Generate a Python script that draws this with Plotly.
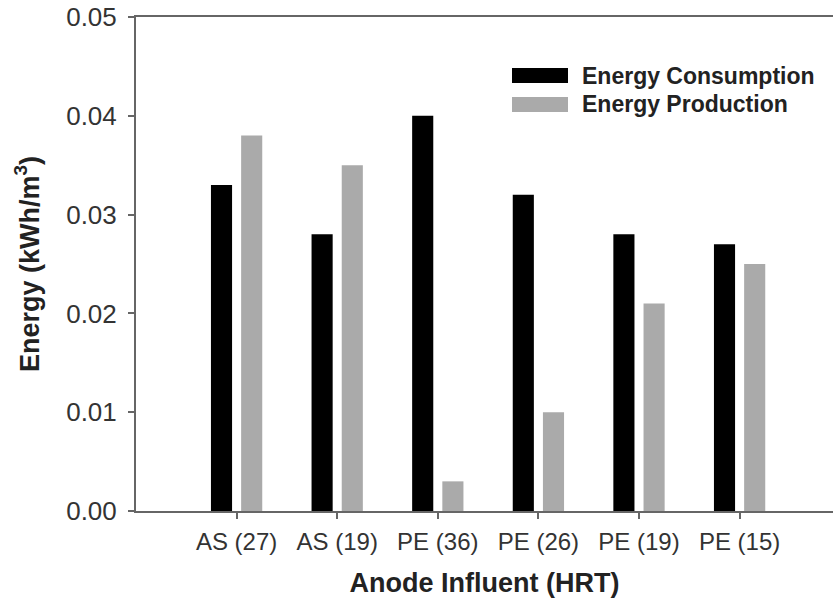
import plotly.graph_objects as go

# Anode influent conditions (HRT in hours) and energy balances in kWh/m3
categories = ["AS (27)", "AS (19)", "PE (36)", "PE (26)", "PE (19)", "PE (15)"]
consumption = [0.033, 0.028, 0.040, 0.032, 0.028, 0.027]
production = [0.038, 0.035, 0.003, 0.010, 0.021, 0.025]
y_ticks = [0.00, 0.01, 0.02, 0.03, 0.04, 0.05]

series = [
    ("Energy Consumption", consumption, "#000000"),
    ("Energy Production", production, "#aaaaaa"),
]

W, H = 833, 603
ML, MR, MT, MB = 136, 0, 17, 92
PW, PH = W - ML - MR, H - MT - MB

FONT = "Liberation Sans, Arial, sans-serif"
AXIS_COLOR = "#666666"

fig = go.Figure()
for name, vals, color in series:
    fig.add_trace(go.Bar(
        x=list(range(len(categories))), y=vals, name=name,
        marker=dict(color=color, line=dict(width=0)),
        showlegend=False,
    ))

# category spacing in px, so the x range leaves one empty slot on the left
step = 100.6
x_range = [-1, -1 + PW / step]

fig.update_layout(
    width=W, height=H,
    margin=dict(l=ML, r=MR, t=MT, b=MB, pad=0),
    paper_bgcolor="white", plot_bgcolor="white",
    barmode="group", bargap=0.40, bargroupgap=0.30,
    font=dict(family=FONT, color="#333333"),
    xaxis=dict(
        range=x_range, tickmode="array",
        tickvals=list(range(len(categories))), ticktext=categories,
        showgrid=False, zeroline=False,
        showline=True, linecolor=AXIS_COLOR, linewidth=2, mirror=True,
        ticks="outside", ticklen=6, tickwidth=1.5, tickcolor=AXIS_COLOR,
        tickfont=dict(size=24, color="#333333"),
        ticklabelstandoff=2,
        title=dict(text="<b>Anode Influent (HRT)</b>",
                   font=dict(size=27, color="#222222"), standoff=19),
    ),
    yaxis=dict(
        range=[0, 0.05], tickmode="array", tickvals=y_ticks,
        tickformat=".2f",
        showgrid=False, zeroline=False,
        showline=True, linecolor=AXIS_COLOR, linewidth=2, mirror=False,
        ticks="outside", ticklen=6, tickwidth=1.5, tickcolor=AXIS_COLOR,
        tickfont=dict(size=26, color="#333333"),
        ticklabelstandoff=6,
        title=dict(text="<b>Energy (kWh/m<sup>3</sup>)</b>",
                   font=dict(size=27, color="#222222"), standoff=19),
    ),
)


def px_x(px):
    return (px - ML) / PW


def px_y(py):
    return (H - MB - py) / PH


# legend drawn with long swatches
rows = [75.5, 104.5]
for (name, _, color), cy in zip(series, rows):
    fig.add_shape(type="rect", xref="paper", yref="paper",
                  x0=px_x(512), x1=px_x(568),
                  y0=px_y(cy + 7.5), y1=px_y(cy - 7.5),
                  fillcolor=color, line=dict(width=0))
    fig.add_annotation(x=px_x(580), y=px_y(cy), xref="paper", yref="paper",
                       text=f"<b>{name}</b>", showarrow=False,
                       xanchor="left", yanchor="middle",
                       font=dict(size=23, color="#222222", family=FONT))

fig.write_html("out.html")
